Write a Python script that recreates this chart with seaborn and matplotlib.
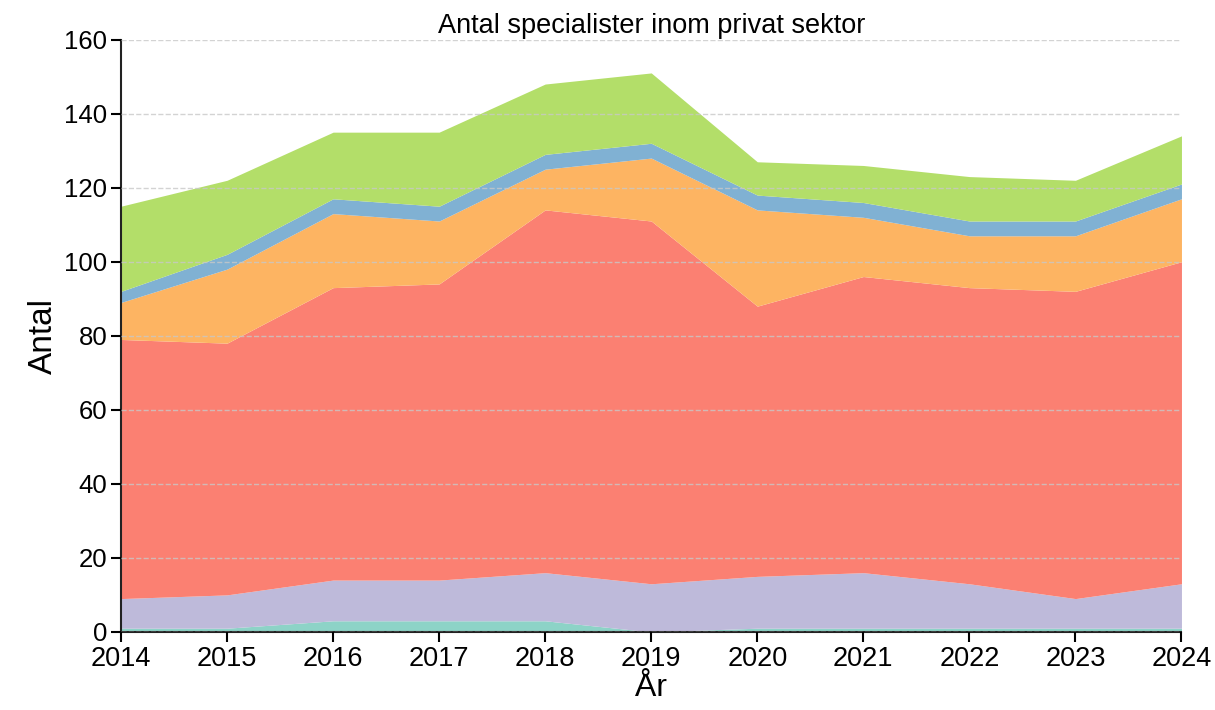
import matplotlib
matplotlib.use("Agg")
import matplotlib.pyplot as plt
import seaborn as sns

# Data
years = [2014, 2015, 2016, 2017, 2018, 2019, 2020, 2021, 2022, 2023, 2024]
teal = [1, 1, 3, 3, 3, 0, 1, 1, 1, 1, 1]
purple = [8, 9, 11, 11, 13, 13, 14, 15, 12, 8, 12]
red = [70, 68, 79, 80, 98, 98, 73, 80, 80, 83, 87]
orange = [10, 20, 20, 17, 11, 17, 26, 16, 14, 15, 17]
blue = [3, 4, 4, 4, 4, 4, 4, 4, 4, 4, 4]
green = [23, 20, 18, 20, 19, 19, 9, 10, 12, 11, 13]

colors = ["#8dd3c7", "#bebada", "#fb8072", "#fdb462", "#80b1d3", "#b3de69"]

sns.set_style("ticks")
plt.rcParams['font.family'] = ['Liberation Sans', 'DejaVu Sans']
plt.rcParams['text.color'] = 'black'
plt.rcParams['axes.labelcolor'] = 'black'
plt.rcParams['xtick.color'] = 'black'
plt.rcParams['ytick.color'] = 'black'
plt.rcParams['axes.edgecolor'] = '#222222'

fig = plt.figure(figsize=(12.15, 7.10), dpi=100)
ax = fig.add_axes([0.0996, 0.110, 0.8728, 0.8342])

ax.stackplot(years, teal, purple, red, orange, blue, green,
             colors=colors, linewidth=0)

ax.set_xlim(2014, 2024)
ax.set_ylim(0, 160)
ax.set_xticks(years)
ax.set_yticks(range(0, 161, 20))
ax.tick_params(axis="both", length=7, width=1.5, direction="out")
ax.tick_params(axis="x", labelsize=19.5, pad=3)
ax.tick_params(axis="y", labelsize=18.5, pad=3)

# dashed grid drawn on top of the areas
ax.set_axisbelow(False)
ax.yaxis.grid(True, linestyle="--", color="#c8c8c8", linewidth=1.0, alpha=0.8)

sns.despine(ax=ax)
ax.spines["left"].set_linewidth(1.5)
ax.spines["bottom"].set_linewidth(1.5)

ax.set_title("Antal specialister inom privat sektor", fontsize=19.5, pad=5)
ax.set_ylabel("Antal", fontsize=24, labelpad=4)
ax.set_xlabel("År", fontsize=23, labelpad=1)

fig.savefig("out.png", dpi=100)
